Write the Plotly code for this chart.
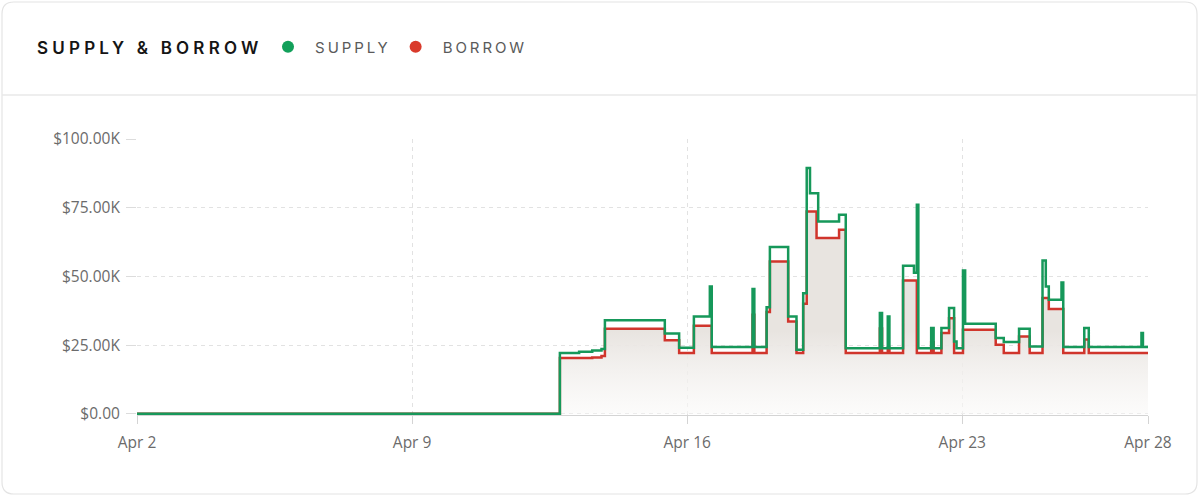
import plotly.graph_objects as go

# ---------------- data ----------------
times = [
    "2024-04-02 00:00", "2024-04-12 18:15", "2024-04-13 06:00", "2024-04-13 14:00",
    "2024-04-13 19:40", "2024-04-13 21:45", "2024-04-15 10:20", "2024-04-15 19:05",
    "2024-04-16 04:05", "2024-04-16 13:50", "2024-04-16 15:00", "2024-04-17 15:55",
    "2024-04-17 17:00", "2024-04-18 00:30", "2024-04-18 02:30", "2024-04-18 13:40",
    "2024-04-18 18:45", "2024-04-18 22:50", "2024-04-19 01:00", "2024-04-19 03:00",
    "2024-04-19 07:00", "2024-04-19 08:00", "2024-04-19 20:45", "2024-04-20 00:50",
    "2024-04-20 21:40", "2024-04-20 23:00", "2024-04-21 02:30", "2024-04-21 03:30",
    "2024-04-21 11:50", "2024-04-21 18:30", "2024-04-21 20:15", "2024-04-21 21:10",
    "2024-04-22 05:00", "2024-04-22 06:30", "2024-04-22 11:15", "2024-04-22 15:55",
    "2024-04-22 19:00", "2024-04-22 20:30", "2024-04-23 00:25", "2024-04-23 01:45",
    "2024-04-23 20:25", "2024-04-24 01:20", "2024-04-24 10:40", "2024-04-24 17:10",
    "2024-04-25 01:00", "2024-04-25 03:00", "2024-04-25 04:50", "2024-04-25 12:35",
    "2024-04-25 13:40", "2024-04-26 02:30", "2024-04-26 05:15", "2024-04-27 13:25",
    "2024-04-27 14:20", "2024-04-27 17:25",
]

supply = [
    0, 22100, 22600, 23000,
    23600, 34000, 29200, 24000,
    35400, 46300, 24300, 45400,
    24300, 38800, 60700, 35400,
    23300, 43900, 89400, 80300,
    80300, 70000, 72400, 23800,
    36700, 23800, 35400, 23800,
    53900, 51300, 76100, 23800,
    31200, 23800, 31200, 38500,
    26300, 23800, 52100, 32800,
    27600, 26100, 30900, 24500,
    55800, 46300, 41500, 47800,
    24300, 31200, 24300, 29400,
    24300, 24300,
]

borrow = [
    0, 20300, 20300, 20500,
    21000, 30900, 26800, 22100,
    32000, 32000, 22100, 36000,
    22100, 37000, 55400, 33600,
    22100, 40000, 73600, 73600,
    64000, 64000, 67000, 22100,
    31000, 22100, 24000, 22100,
    48500, 48500, 22100, 22100,
    26000, 22100, 29400, 34800,
    22100, 22100, 30600, 30600,
    25100, 22100, 28100, 22100,
    42100, 42100, 38100, 38100,
    22100, 27000, 22100, 22100,
    22100, 22100,
]

x_tick_vals = ["2024-04-02", "2024-04-09", "2024-04-16", "2024-04-23", "2024-04-27 17:25"]
x_tick_text = ["Apr 2", "Apr 9", "Apr 16", "Apr 23", "Apr 28"]
y_tick_vals = [0, 25000, 50000, 75000, 100000]
y_tick_text = ["$0.00", "$25.00K", "$50.00K", "$75.00K", "$100.00K"]

title_text = "SUPPLY & BORROW"
series_names = ["SUPPLY", "BORROW"]

# ---------------- style ----------------
GREEN = "#16985a"
RED = "#d0352c"
GREEN_DOT = "#12a05a"
RED_DOT = "#d93a2b"

W, H = 1200, 497
L, R, T, B = 137, 52, 139, 82          # plot area in pixels
pw, ph = W - L - R, H - T - B


def px_x(p):
    return (p - L) / pw


def px_y(p):
    return (H - B - p) / ph


fig = go.Figure()

# borrow: filled area + red line
fig.add_trace(go.Scatter(
    x=times, y=borrow, mode="lines", line=dict(color=RED, width=2.5, shape="hv"),
    fill="tozeroy",
    fillgradient=dict(type="vertical", start=0, stop=30000,
                      colorscale=[[0, "rgba(250,249,248,0.6)"], [1, "rgba(232,228,224,1)"]]),
    showlegend=False, legendgroup="b", name=series_names[1],
))
# supply: green line
fig.add_trace(go.Scatter(
    x=times, y=supply, mode="lines", line=dict(color=GREEN, width=2.5, shape="hv"),
    showlegend=False, legendgroup="s", name=series_names[0],
))

# legend entries with round dots
ls = "letter-spacing:2.9px"
fig.add_trace(go.Scatter(
    x=[None], y=[None], mode="markers", marker=dict(size=12, color=GREEN_DOT),
    name=f'<span style="{ls}"> {series_names[0]}</span>', legendgroup="s",
))
fig.add_trace(go.Scatter(
    x=[None], y=[None], mode="markers", marker=dict(size=12, color=RED_DOT),
    name=f'<span style="{ls}"> {series_names[1]}</span>', legendgroup="b",
))

# card outline (rounded) and header divider
def rounded_rect(x0, y0, x1, y1, r):
    rx, ry = r / pw, r / ph
    X0, X1 = px_x(x0), px_x(x1)
    Y0, Y1 = px_y(y0), px_y(y1)   # Y0 top, Y1 bottom
    return (f"M {X0+rx},{Y0} L {X1-rx},{Y0} Q {X1},{Y0} {X1},{Y0-ry} "
            f"L {X1},{Y1+ry} Q {X1},{Y1} {X1-rx},{Y1} L {X0+rx},{Y1} "
            f"Q {X0},{Y1} {X0},{Y1+ry} L {X0},{Y0-ry} Q {X0},{Y0} {X0+rx},{Y0} Z")

fig.add_shape(type="path", xref="paper", yref="paper", layer="below",
              path=rounded_rect(2, 2, 1197, 494, 12),
              line=dict(color="#e4e4e4", width=1.2), fillcolor="white")
fig.add_shape(type="line", xref="paper", yref="paper", layer="below",
              x0=px_x(2), x1=px_x(1197), y0=px_y(95), y1=px_y(95),
              line=dict(color="#e8e8e8", width=1.5))

TICK_FONT = dict(family="Open Sans, sans-serif", size=15.5, color="#6b6b6b")

fig.update_layout(
    width=W, height=H,
    margin=dict(l=L, r=R, t=T, b=B, pad=0),
    paper_bgcolor="white", plot_bgcolor="rgba(0,0,0,0)",
    font=dict(family="Inter, Liberation Sans, sans-serif", color="#6b6b6b", size=13),
    title=dict(
        text=f'<span style="letter-spacing:4.2px">{title_text}</span>',
        font=dict(family="Inter, sans-serif", size=17, color="#151515", weight=600),
        x=37 / W, xanchor="left", xref="container",
        y=1 - 48 / H, yanchor="middle", yref="container",
    ),
    legend=dict(
        orientation="h", x=px_x(268), xanchor="left", y=px_y(47), yanchor="middle",
        font=dict(family="Inter, sans-serif", size=15, color="#5a5a5a"),
        bgcolor="rgba(0,0,0,0)", itemclick="toggle",
    ),
    xaxis=dict(
        type="date", range=[x_tick_vals[0], x_tick_vals[-1]],
        tickvals=x_tick_vals, ticktext=x_tick_text,
        showgrid=True, gridcolor="#e2e2e2", griddash="4px,4px", gridwidth=1,
        showline=True, linecolor="#d4d4d4", linewidth=1.2,
        ticks="outside", ticklen=8, tickcolor="#d4d4d4", ticklabelstandoff=5,
        tickfont=TICK_FONT, zeroline=False, layer="below traces",
        fixedrange=True,
    ),
    yaxis=dict(
        range=[-450, 100000], tickvals=y_tick_vals, ticktext=y_tick_text,
        showgrid=True, gridcolor="#e2e2e2", griddash="4px,4px", gridwidth=1,
        showline=False, zeroline=False, layer="below traces",
        ticks="outside", ticklen=10, tickcolor="#dcdcdc", ticklabelstandoff=3,
        tickfont=TICK_FONT, fixedrange=True,
    ),
    hovermode="x unified",
)

fig.write_html("out.html")
